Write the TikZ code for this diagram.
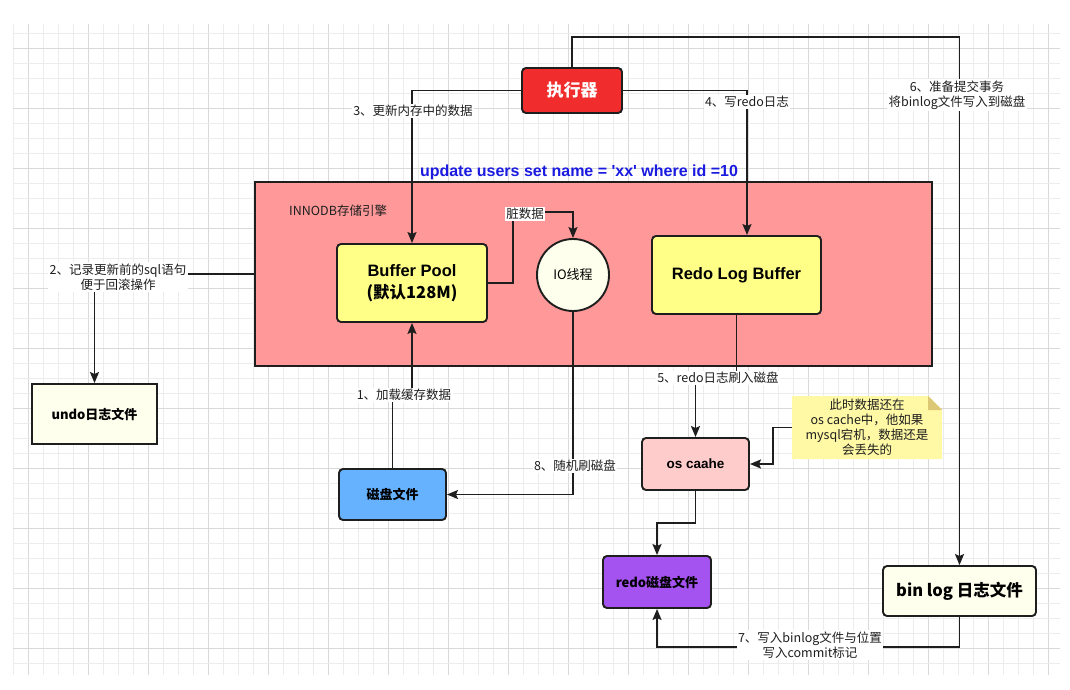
\documentclass[tikz,border=0pt]{standalone}
\usepackage{fontspec}
\setmainfont{Noto Sans CJK SC}
\newfontfamily\latinsf{Liberation Sans}[Ligatures=TeXOff]
\usetikzlibrary{arrows.meta,calc}
\definecolor{gridminor}{HTML}{ECECEC}
\definecolor{gridmajor}{HTML}{D9D9D9}
\definecolor{exered}{HTML}{F02C2C}
\definecolor{innopink}{HTML}{FF9999}
\definecolor{bpyellow}{HTML}{FFFF88}
\definecolor{ivory}{HTML}{FFFFEE}
\definecolor{diskblue}{HTML}{66B2FF}
\definecolor{ospink}{HTML}{FFCCCC}
\definecolor{redopurple}{HTML}{A452F0}
\definecolor{noteyellow}{HTML}{FFF9A6}
\definecolor{notefold}{HTML}{DCC774}
\definecolor{sqlblue}{HTML}{1A1AE0}
\definecolor{linecol}{HTML}{1E1E1E}
\tikzset{
  box/.style={draw=linecol, line width=1.9pt, rounded corners=4pt, inner sep=0pt, align=center, font=\fontsize{13}{16}\selectfont\bfseries},
  conn/.style={draw=linecol, line width=1.9pt},
  arr/.style={conn, -{Stealth[length=11pt,width=9pt,inset=2pt]}},
  lbl/.style={fill=white, inner sep=1.5pt, align=center, font=\fontsize{12.5}{15}\selectfont, text=linecol},
}
\begin{document}
\begin{tikzpicture}[x=1pt,y=-1pt]
\useasboundingbox (0,0) rectangle (1070,690);
\fill[white] (0,0) rectangle (1070,690);
% grid
\foreach \i in {0,...,69} {
  \pgfmathsetmacro{\xx}{28+15*\i}
  \ifdim\xx pt<1061pt
    \pgfmathtruncatemacro{\mm}{mod(\i,4)}
    \ifnum\mm=0 \draw[gridmajor, line width=0.8pt] (\xx,24) -- (\xx,675);
    \else \draw[gridminor, line width=0.8pt] (\xx,24) -- (\xx,675); \fi
  \fi
}
\draw[gridminor, line width=0.8pt] (13,24) -- (13,675);
\foreach \i in {-1,...,42} {
  \pgfmathsetmacro{\yy}{48+15*\i}
  \ifdim\yy pt<676pt
    \pgfmathtruncatemacro{\mm}{mod(\i+4,4)}
    \ifnum\mm=0 \draw[gridmajor, line width=0.8pt] (13,\yy) -- (1060,\yy);
    \else \draw[gridminor, line width=0.8pt] (13,\yy) -- (1060,\yy); \fi
  \fi
}
% INNODB container
\node[draw=linecol, line width=1.9pt, fill=innopink, minimum width=677pt, minimum height=184pt, inner sep=0pt] (inno) at (593.5,274) {};
\node[font=\fontsize{12.5}{15}\selectfont, text=linecol, anchor=west, inner sep=0pt] (innolbl) at (289,211) {INNODB存储引擎};
% nodes
\node[box, fill=exered, text=white, minimum width=100pt, minimum height=45pt, font=\fontsize{17}{20}\selectfont\bfseries] (exe) at (572,90.5) {执行器};
\node[box, fill=bpyellow, minimum width=150pt, minimum height=78pt, font=\fontsize{16.5}{22}\selectfont\bfseries] (bp) at (412,283) {{\latinsf Buffer Pool}\\(默认128M)};
\node[draw=linecol, line width=1.9pt, circle, fill=ivory, minimum size=72pt, inner sep=0pt, font=\fontsize{13}{15}\selectfont] (io) at (573,275) {IO线程};
\node[box, fill=bpyellow, minimum width=169pt, minimum height=78pt, font=\fontsize{16.5}{20}\selectfont\bfseries\latinsf] (rlb) at (736.5,275) {Redo Log Buffer};
\node[box, fill=ivory, rounded corners=0pt, minimum width=125pt, minimum height=60pt] (undo) at (94.5,414) {undo日志文件};
\node[box, fill=diskblue, minimum width=107pt, minimum height=51pt] (disk) at (392.5,494.5) {磁盘文件};
\node[box, fill=ospink, minimum width=107pt, minimum height=52pt, font=\fontsize{13.5}{16}\selectfont\bfseries\latinsf] (os) at (695.5,464) {os caahe};
\node[box, fill=redopurple, minimum width=108pt, minimum height=52pt] (redo) at (657,582) {redo磁盘文件};
\node[box, fill=ivory, minimum width=153pt, minimum height=50pt, font=\fontsize{16.5}{20}\selectfont\bfseries] (binlog) at (959.5,591) {bin log 日志文件};
% note
\fill[noteyellow] (792,396) -- (928,396) -- (942,410) -- (942,459) -- (792,459) -- cycle;
\fill[notefold] (928,396) -- (928,410) -- (942,410) -- cycle;
\node[align=center, inner sep=0pt, minimum width=150pt, minimum height=63pt, font=\fontsize{12.5}{15}\selectfont, text=linecol] (note) at (867,427.5) {此时数据还在\\os cache中，他如果\\mysql宕机，数据还是\\会丢失的};
% SQL text
\node[text=sqlblue, font=\fontsize{16}{19}\selectfont\bfseries\latinsf, inner sep=0pt] (sql) at (579,172) {update users set name = 'xx' where id =10};
% jog coordinates
\coordinate (c1) at (404,395);
\coordinate (c5) at (718,378);
\coordinate (cd) at (513,212);
% connectors
\draw[arr] (exe.west) -| (bp.north);
\draw[arr] (exe.east) -| ($(rlb.north)+(10.5,0)$);
\draw[arr] (exe.north) -- ++(0,-30) -| (binlog.north);
\draw[arr] (inno.west) -| (undo.north);
\draw[arr] (bp.east) -| (cd) -| (io.north);
\draw[arr] (disk.north) |- (c1) -| (bp.south);
\draw[arr] (io.south) |- (disk.east);
\draw[arr] (rlb.south) |- (c5) -| (os.north);
\draw[arr] (note.west) -- ++(-19,0) |- (os.east);
\draw[arr] (os.south) -- ++(0,32) -| (redo.north);
\draw[arr] (binlog.south) -- ++(0,30) -| (redo.south);
% labels
\node[lbl] (l3) at (413,111) {3、更新内存中的数据};
\node[lbl] (l4) at (747,102) {4、写redo日志};
\node[lbl] (l6) at (957,95) {6、准备提交事务\\将binlog文件写入到磁盘};
\node[lbl] (l2) at (118,277) {2、记录更新前的sql语句\\便于回滚操作};
\node[lbl] (ld) at (525,214) {脏数据};
\node[lbl] (l1) at (c1) {1、加载缓存数据};
\node[lbl] (l8) at (575,466) {8、随机刷磁盘};
\node[lbl] (l5) at (c5) {5、redo日志刷入磁盘};
\node[lbl] (l7) at (810,645) {7、写入binlog文件与位置\\写入commit标记};
\end{tikzpicture}
\end{document}
